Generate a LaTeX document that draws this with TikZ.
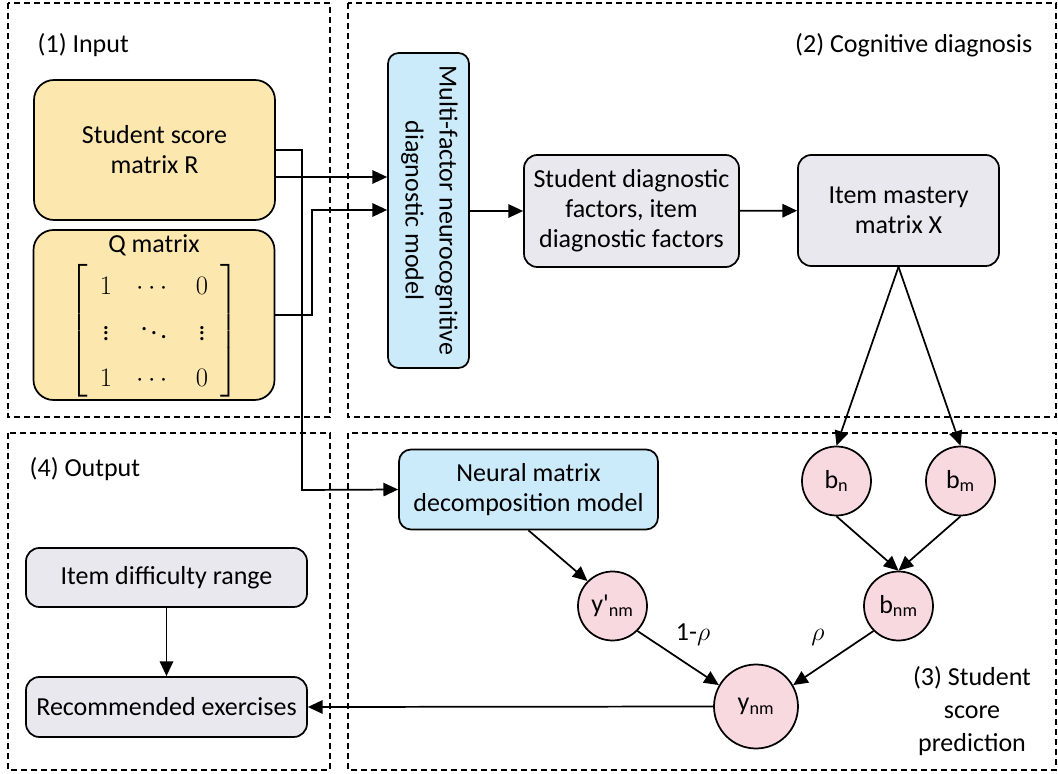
\RequirePackage{fix-cm}
\documentclass[tikz,border=0pt]{standalone}
\usepackage{amsmath}
\usepackage{fontspec}
\setmainfont{Carlito}
\usetikzlibrary{arrows.meta,positioning,calc}

\definecolor{inyellow}{HTML}{FCE7AE}
\definecolor{modblue}{HTML}{CCEBFA}
\definecolor{stepgray}{HTML}{EAE8EF}
\definecolor{varpink}{HTML}{F8D9DF}

\tikzset{
  frame/.style={draw, line width=1.2pt, dash pattern=on 4.5pt off 3pt},
  ybox/.style={draw, line width=1.3pt, fill=inyellow, rounded corners=15pt, align=center},
  bbox/.style={draw, line width=1.3pt, fill=modblue, rounded corners=8pt, align=center},
  gbox/.style={draw, line width=1.3pt, fill=stepgray, rounded corners=10pt, align=center},
  pcirc/.style={draw, circle, line width=1.3pt, fill=varpink, minimum size=51.75pt, inner sep=0pt},
  arr/.style={-{Triangle[length=11pt,width=10pt]}, line width=1.3pt}
}

\begin{document}
\begin{tikzpicture}[x=0.75pt, y=-0.75pt, font=\fontsize{19.5}{22.5}\selectfont]
\useasboundingbox (0,0) rectangle (1058,774);

% Stage frames
\draw[frame] (8,3) rectangle (330,417);
\draw[frame] (348,3) rectangle (1056,417);
\draw[frame] (8,433) rectangle (330,770);
\draw[frame] (348,433) rectangle (1056,770);

% Stage titles
\node[anchor=west] (input) at (33,45) {(1) Input};
\node[anchor=east] (diag) at (1037,45) {(2) Cognitive diagnosis};
\node[anchor=west] (output) at (25,469) {(4) Output};
\node[align=center] (pred) at (972,711) {(3) Student\\[2.25pt] score\\[2.25pt] prediction};

% Input
\node[ybox, minimum width=180.75pt, minimum height=105pt] (R) at (154.5,150) {Student score\\matrix R};
\node[ybox, minimum width=180.75pt, minimum height=127.5pt] (Q) at (154,315) {};
\node (qtitle) at (154,245) {Q matrix};
\node (qmat) at (154,331) {\fontsize{20}{20}\selectfont\renewcommand{\arraystretch}{1.72}\setlength{\arraycolsep}{9pt}%
  $\left[\begin{array}{ccc} 1 & \cdots & 0\\ \vdots & \ddots & \vdots\\ 1 & \cdots & 0 \end{array}\right]$};

% Cognitive diagnosis
\node[bbox, minimum width=60.75pt, minimum height=236.25pt] (multi) at (428.5,210.5)
  {\rotatebox{-90}{\begin{tabular}{@{}c@{}}Multi-factor neurocognitive\\[3pt] diagnostic model\end{tabular}}};
\node[gbox, minimum width=161.25pt, minimum height=84pt] (factors) at (631.5,211)
  {Student diagnostic\\factors, item\\diagnostic factors};
\node[gbox, minimum width=150.75pt, minimum height=83.25pt] (mastery) at (898.5,210.5) {Item mastery\\matrix X};

% Student score prediction
\node[bbox, rounded corners=9pt, minimum width=194.25pt, minimum height=60pt] (neural) at (528.5,489.5) {Neural matrix\\decomposition model};
\node[pcirc] (bn) at (836.5,481) {b\textsubscript{n}};
\node[pcirc] (bm) at (960.5,481) {b\textsubscript{m}};
\node[pcirc] (bnm) at (898.5,606) {b\textsubscript{nm}};
\node[pcirc] (ypnm) at (612.5,606) {y\textquotesingle\textsubscript{nm}};
\node[pcirc, minimum size=63pt] (ynm) at (756,706.5) {y\textsubscript{nm}};
\node (wleft) at (693,635) {1-$\rho$};
\node (wright) at (818,637) {$\rho$};

% Output
\node[gbox, minimum width=210.75pt, minimum height=44.25pt] (range) at (166.5,577.5) {Item difficulty range};
\node[gbox, minimum width=210.75pt, minimum height=45pt] (rec) at (166.5,707) {Recommended exercises};

% Connections
\draw[arr] (R.east |- 0,177) -- (multi.west |- 0,177);
\draw[arr] (Q.east) -| (312,210) -- (multi.west |- 0,210);
\draw[arr] (R.east) -| (302,490) -- (neural.west);
\draw[arr] (multi.east |- factors.west) -- (factors.west);
\draw[arr] (factors) -- (mastery);
\draw[arr] (mastery.south) -- (bn.north);
\draw[arr] (mastery.south) -- (bm.north);
\draw[arr] (bn.south) -- (bnm.north);
\draw[arr] (bm.south) -- (bnm.north);
\draw[arr] (neural.south) -- (ypnm.135);
\draw[arr] (ypnm.315) -- (ynm.150);
\draw[arr] (bnm.225) -- (ynm.30);
\draw[arr] (ynm.west) -- (rec.east);
\draw[arr] (range) -- (rec);

\end{tikzpicture}
\end{document}
